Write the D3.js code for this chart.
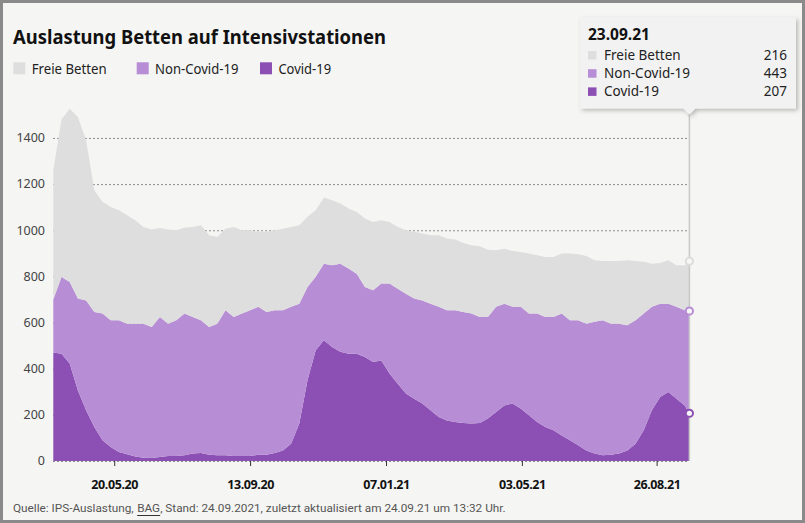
<!DOCTYPE html>
<html><head><meta charset="utf-8">
<script src="https://cdn.jsdelivr.net/npm/d3@7/dist/d3.min.js"></script>
<style>
html,body{margin:0;padding:0;background:#f5f5f3;}
svg{display:block;font-family:"Noto Sans",sans-serif;}
</style></head>
<body>
<svg id="chart" width="805" height="523"></svg>
<script>
// ---- data (weekly readings from 29.03.20, last point 23.09.21) ----
const categories = ["Freie Betten", "Non-Covid-19", "Covid-19"];
const startDate = "2020-03-29";
const lastDate = "2021-09-23";
const covid = [470,465,422,306,220,147,90,61,39,29,20,14,13,17,22,22,
  25,32,35,27,25,25,22,22,22,27,27,35,46,75,162,
  350,480,523,494,473,465,465,451,429,436,379,335,292,270,249,220,
  191,176,169,165,162,165,184,212,241,249,227,198,169,147,133,111,
  90,68,46,32,25,27,32,46,75,133,220,277,299,270,241,207];
const nonCovid = [230,332,354,398,476,499,549,549,571,566,575,581,568,607,573,588,
  614,592,575,554,570,628,602,617,631,641,619,618,607,593,520,
  404,318,332,354,382,369,347,303,311,333,390,412,433,434,447,462,
  477,477,484,481,477,459,440,456,441,419,441,441,470,477,491,528,
  520,542,549,571,585,568,563,542,535,506,448,405,383,398,412,443];
const free = [560,683,751,787,694,527,484,491,477,470,448,419,422,386,408,390,
  372,390,412,397,376,354,390,361,347,325,347,347,354,346,340,
  304,289,287,282,261,260,267,297,296,274,267,267,275,289,290,296,
  310,311,307,299,296,307,292,245,238,242,238,260,253,260,260,260,
  289,286,293,267,257,272,272,282,257,224,187,176,188,180,195,216];
const yTicks = [0,200,400,600,800,1000,1200,1400];
const xTickLabels = ["20.05.20","13.09.20","07.01.21","03.05.21","26.08.21"];
const footerParts = ["Quelle: IPS-Auslastung,", "BAG", ", Stand: 24.09.2021, zuletzt aktualisiert am 24.09.21 um 13:32 Uhr."];
const colors = {free:"#dedede", nonCovid:"#b78dd6", covid:"#8c4fb4"};

const parse = d3.timeParse("%Y-%m-%d");
const parseTick = d3.timeParse("%d.%m.%y");
const fmt = d3.timeFormat("%d.%m.%y");
const n = covid.length;
const dates = covid.map((_, i) => i === n - 1 ? parse(lastDate) : d3.timeDay.offset(parse(startDate), 7 * i));
const table = dates.map((d, i) => ({date: d, covid: covid[i], nonCovid: nonCovid[i], free: free[i]}));

const svg = d3.select("#chart");
svg.append("rect").attr("x",1.5).attr("y",1.5).attr("width",802).attr("height",520)
  .attr("fill","#f5f5f3").attr("stroke","#8a8a8a").attr("stroke-width",3);

const x = d3.scaleTime().domain([parse(startDate), parse(lastDate)]).range([53.3, 689.4]);
const y = d3.scaleLinear().domain([0, 1600]).range([461, 91.8]);

// grid
svg.append("g").selectAll("line").data(yTicks).join("line")
  .attr("x1", 53).attr("x2", 689).attr("y1", d => y(d)+0.5).attr("y2", d => y(d)+0.5)
  .attr("stroke", "#8f8f8f").attr("stroke-width", 1).attr("stroke-dasharray", "2,2");

// stacked areas
const keys = ["covid", "nonCovid", "free"];
const stack = d3.stack().keys(keys)(table);
const area = d3.area().x(d => x(d.data.date)).y0(d => y(d[0])).y1(d => y(d[1]));
svg.append("g").selectAll("path").data(stack).join("path")
  .attr("d", area).attr("fill", d => colors[d.key]);

// y axis labels
svg.append("g").selectAll("text").data(yTicks).join("text")
  .attr("x", 45).attr("y", d => y(d)).attr("dy", "0.35em").attr("text-anchor", "end")
  .attr("font-size", 12.5).attr("fill", "#444").text(d => d);

// x axis
const xTicks = xTickLabels.map(parseTick);
const xAxis = d3.axisBottom(x).tickValues(xTicks).tickFormat(fmt).tickSize(5).tickPadding(14);
const gx = svg.append("g").attr("transform", "translate(0,461)").call(xAxis);
gx.select(".domain").remove();
gx.selectAll(".tick line").attr("stroke", "#333");
gx.selectAll(".tick text").attr("font-family", "Noto Sans, sans-serif").attr("font-size", 12.5)
  .attr("font-weight", "bold").attr("fill", "#111").attr("letter-spacing", "-0.4");

// title
svg.append("text").attr("x", 13).attr("y", 44.3).attr("font-size", 19).attr("font-weight", "bold")
  .attr("fill", "#111").attr("textLength", 373).attr("lengthAdjust", "spacingAndGlyphs")
  .text("Auslastung Betten auf Intensivstationen");

// legend
const legendItems = [
  {label: categories[0], key: "free", x: 13.3, w: 75},
  {label: categories[1], key: "nonCovid", x: 136.7, w: 83.3},
  {label: categories[2], key: "covid", x: 260, w: 52.7}
];
const lg = svg.append("g");
legendItems.forEach(it => {
  lg.append("rect").attr("x", it.x).attr("y", 62.3).attr("width", 12).attr("height", 12).attr("fill", colors[it.key]);
  lg.append("text").attr("x", it.x + 18.4).attr("y", 74).attr("font-size", 13.5).attr("fill", "#222")
    .attr("textLength", it.w).attr("lengthAdjust", "spacingAndGlyphs").text(it.label);
});

// hover line & markers at last point
const last = stack.map(s => s[n - 1]);
const lx = x(dates[n - 1]);
svg.append("line").attr("x1", lx).attr("x2", lx).attr("y1", 112).attr("y2", 461)
  .attr("stroke", "#c8c8c8").attr("stroke-width", 1.5);
const markerStroke = {free: "#dcdcdc", nonCovid: "#b78dd6", covid: "#8c4fb4"};
svg.append("g").selectAll("circle").data(last).join("circle")
  .attr("cx", lx).attr("cy", (d, i) => y(d[1])).attr("r", 3.6)
  .attr("fill", "#f7f7f7").attr("stroke", (d, i) => markerStroke[keys[i]]).attr("stroke-width", 2);

// tooltip
const defs = svg.append("defs");
const f = defs.append("filter").attr("id", "sh").attr("x", "-10%").attr("y", "-10%").attr("width", "130%").attr("height", "140%");
f.append("feDropShadow").attr("dx", 2).attr("dy", 2).attr("stdDeviation", 2).attr("flood-color", "#000").attr("flood-opacity", 0.25);
const tt = svg.append("g");
tt.append("path")
  .attr("d", `M580,17.5 H796 V108.5 H${lx+6} L${lx},114.5 L${lx-6},108.5 H580 Z`)
  .attr("fill", "#f2f2f2").attr("filter", "url(#sh)");
tt.append("text").attr("x", 588).attr("y", 40).attr("font-size", 15.5).attr("font-weight", "bold")
  .attr("fill", "#111").text(fmt(dates[n - 1]));
const rows = [
  {label: categories[0], key: "free", v: free[n - 1]},
  {label: categories[1], key: "nonCovid", v: nonCovid[n - 1]},
  {label: categories[2], key: "covid", v: covid[n - 1]}
];
rows.forEach((r, i) => {
  const by = 59.5 + i * 18.2;
  tt.append("rect").attr("x", 588).attr("y", by - 8.5).attr("width", 8.5).attr("height", 8.5).attr("fill", colors[r.key]);
  tt.append("text").attr("x", 604).attr("y", by).attr("font-size", 13.5).attr("fill", "#222").text(r.label);
  tt.append("text").attr("x", 787).attr("y", by).attr("font-size", 13.5).attr("fill", "#222")
    .attr("text-anchor", "end").text(r.v);
});

// footer: separate pieces in Roboto, sized to fit the reference width
const fg = svg.append("g");
const gap = 3.5, targetW = 493, fam = "Roboto, 'Noto Sans', sans-serif";
const mk = (t, s) => fg.append("text").attr("y", 511.7).attr("font-family", fam).attr("font-size", s).attr("fill", "#555").text(t);
let pieces = footerParts.map(t => mk(t, 12.5));
let widths = pieces.map(p => p.node().getComputedTextLength());
const fsize = 12.5 * (targetW - gap) / d3.sum(widths);
pieces.forEach(p => p.remove());
pieces = footerParts.map(t => mk(t, fsize));
widths = pieces.map(p => p.node().getComputedTextLength());
let fx = 13;
pieces.forEach((p, i) => {
  p.attr("x", fx);
  if (i === 1) fg.append("line").attr("x1", fx).attr("x2", fx + widths[i]).attr("y1", 515.5).attr("y2", 515.5)
    .attr("stroke", "#333").attr("stroke-width", 1);
  fx += widths[i] + (i === 0 ? gap : 0);
});
</script>
</body></html>
